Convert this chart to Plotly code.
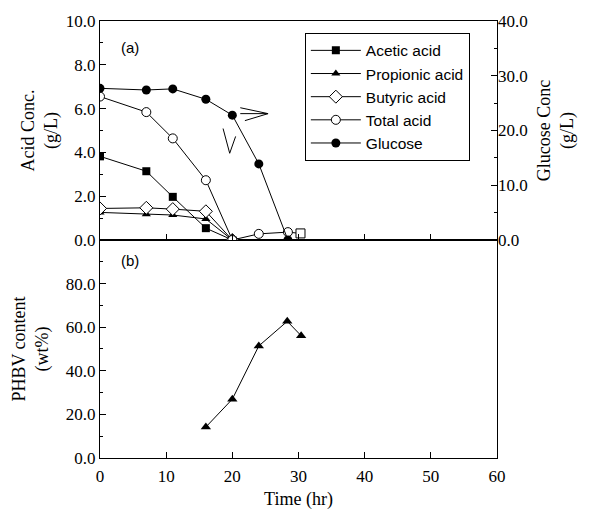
import plotly.graph_objects as go

# Sampling times (hr)
t_acid = [0, 7, 11, 16, 20]
t_total = [0, 7, 11, 16, 20, 24, 28.4, 30.3]
t_glucose = [0, 7, 11, 16, 20, 24, 28.4]
t_phbv = [16, 20, 24, 28.3, 30.4]

# Panel (a): acid concentrations (g/L) and glucose (g/L)
acetic = [3.82, 3.14, 1.97, 0.54, 0.0]
propionic = [1.26, 1.18, 1.14, 0.96, 0.0]
butyric = [1.44, 1.47, 1.41, 1.31, 0.0]
total_acid = [6.55, 5.84, 4.64, 2.73, 0.0, 0.28, 0.36, 0.30]
glucose = [27.7, 27.4, 27.6, 25.7, 22.8, 13.9, 0.0]

# Panel (b): PHBV content (wt%)
phbv = [14.2, 27.0, 51.4, 62.7, 56.1]

SERIF = "Liberation Serif"
SANS = "Liberation Sans"
BLACK = "black"

fig = go.Figure()

line = dict(color=BLACK, width=1)

fig.add_trace(go.Scatter(x=t_acid, y=acetic, name="Acetic acid", mode="lines+markers",
                         line=line, marker=dict(symbol="square", size=8, color=BLACK),
                         xaxis="x2", yaxis="y2"))
fig.add_trace(go.Scatter(x=t_acid, y=propionic, name="Propionic acid", mode="lines+markers",
                         line=line, marker=dict(symbol="triangle-up", size=8, color=BLACK),
                         xaxis="x2", yaxis="y2"))
fig.add_trace(go.Scatter(x=t_acid, y=butyric, name="Butyric acid", mode="lines+markers",
                         line=line,
                         marker=dict(symbol="diamond", size=10, color="white",
                                     line=dict(color=BLACK, width=1)),
                         xaxis="x2", yaxis="y2"))
fig.add_trace(go.Scatter(x=t_total, y=total_acid, name="Total acid", mode="lines+markers",
                         line=line,
                         marker=dict(symbol=["circle"] * 7 + ["square"], size=9, color="white",
                                     line=dict(color=BLACK, width=1)),
                         xaxis="x2", yaxis="y2"))
fig.add_trace(go.Scatter(x=t_glucose, y=glucose, name="Glucose", mode="lines+markers",
                         line=line, marker=dict(symbol="circle", size=9, color=BLACK),
                         xaxis="x2", yaxis="y3"))
fig.add_trace(go.Scatter(x=t_phbv, y=phbv, name="PHBV", mode="lines+markers",
                         line=line, marker=dict(symbol="triangle-up", size=9, color=BLACK),
                         xaxis="x", yaxis="y", showlegend=False))

# Open arrowheads drawn in panel (a)
arrow = dict(type="path", xref="x2", yref="y2", line=dict(color=BLACK, width=1))
fig.add_shape(path="M 18.6 5.09 L 19.6 3.96 L 20.5 4.73", **arrow)
fig.add_shape(path="M 21.2 6.04 L 25.4 5.77 L 21.9 5.45 M 21.2 5.77 L 25.4 5.77", **arrow)

tick_font = dict(family=SERIF, size=17, color=BLACK)
title_font = dict(family=SERIF, size=18, color=BLACK)
split = 221 / 443

common_x = dict(range=[0, 60], tickvals=[0, 10, 20, 30, 40, 50, 60], ticks="inside",
                ticklen=6, tickcolor=BLACK, showline=True, linecolor=BLACK, linewidth=1,
                mirror=True, showgrid=False, zeroline=False)

fig.update_layout(
    width=589, height=517,
    margin=dict(l=100, r=92, t=15, b=59),
    paper_bgcolor="white", plot_bgcolor="white",
    showlegend=True,
    legend=dict(x=0.516, y=0.973, xanchor="left", yanchor="top",
                bgcolor="white", bordercolor=BLACK, borderwidth=1,
                font=dict(family=SANS, size=15.5, color=BLACK),
                tracegroupgap=0, itemwidth=50),
    xaxis=dict(domain=[0, 1], anchor="y", tickfont=tick_font, ticklabelstandoff=3,
               title=dict(text="Time (hr)", font=title_font, standoff=6), **common_x),
    xaxis2=dict(domain=[0, 1], anchor="y2", showticklabels=False, **common_x),
    yaxis=dict(domain=[0, split], anchor="x", range=[0, 100],
               tickvals=[0, 20, 40, 60, 80], tickformat=".1f",
               ticks="inside", ticklen=6, tickcolor=BLACK,
               minor=dict(tickvals=[10, 30, 50, 70, 90], ticks="inside", ticklen=3, tickcolor=BLACK),
               showline=True, linecolor=BLACK, linewidth=1, mirror=True,
               showgrid=False, zeroline=False, tickfont=tick_font,
               title=dict(text="PHBV content<br>(wt%)", font=title_font, standoff=12)),
    yaxis2=dict(domain=[split, 1], anchor="x2", range=[0, 10],
                tickvals=[0, 2, 4, 6, 8, 10], tickformat=".1f",
                ticks="inside", ticklen=6, tickcolor=BLACK,
                minor=dict(tickvals=[1, 3, 5, 7, 9], ticks="inside", ticklen=3, tickcolor=BLACK),
                showline=True, linecolor=BLACK, linewidth=1, mirror=True,
                showgrid=False, zeroline=False, tickfont=tick_font,
                title=dict(text="Acid Conc.<br>(g/L)", font=title_font, standoff=3)),
    yaxis3=dict(domain=[split, 1], anchor="x2", overlaying="y2", side="right",
                range=[0, 40], tickvals=[0, 10, 20, 30, 40], tickformat=".1f",
                ticks="inside", ticklen=6, tickcolor=BLACK,
                minor=dict(tickvals=[5, 15, 25, 35], ticks="inside", ticklen=3, tickcolor=BLACK),
                showline=False, showgrid=False, zeroline=False, tickfont=tick_font,
                title=dict(text="Glucose Conc<br>(g/L)", font=title_font, standoff=10)),
    annotations=[
        dict(text="(a)", xref="paper", yref="paper", x=0.075, y=0.94,
             xanchor="center", yanchor="middle",
             showarrow=False, font=dict(family=SANS, size=15, color=BLACK)),
        dict(text="(b)", xref="paper", yref="paper", x=0.075, y=0.453,
             xanchor="center", yanchor="middle",
             showarrow=False, font=dict(family=SANS, size=15, color=BLACK)),
    ],
)

fig.write_html("out.html")
